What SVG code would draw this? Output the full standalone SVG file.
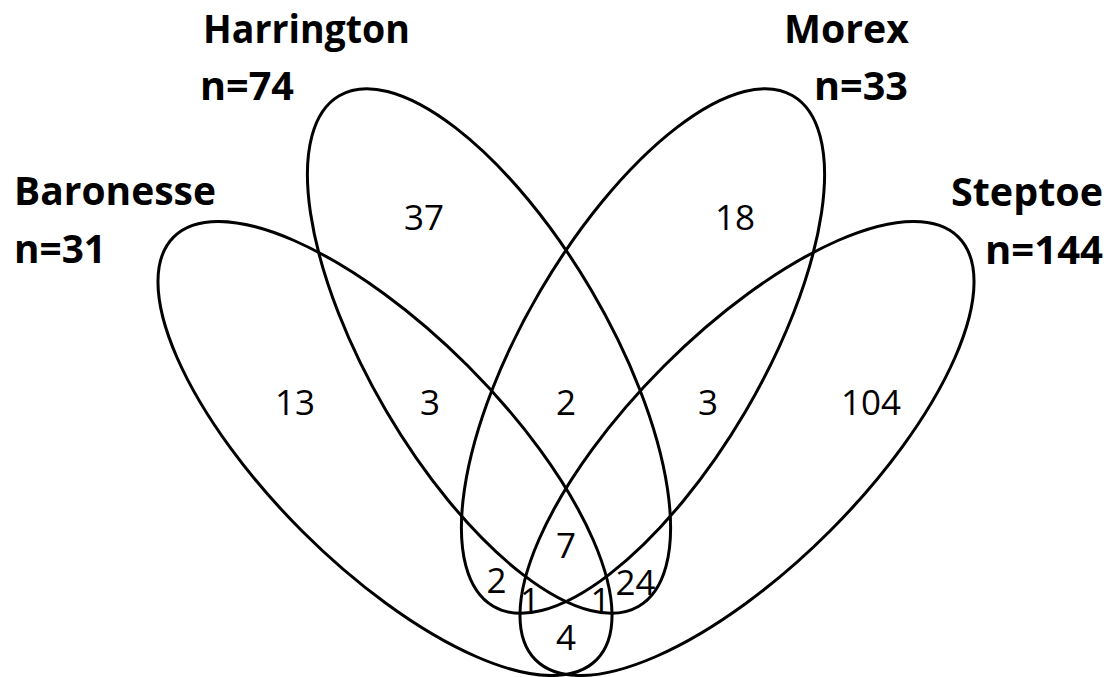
<svg xmlns="http://www.w3.org/2000/svg" width="1115" height="677" viewBox="0 0 1115 677">
<style>
.set{fill:none;stroke:#000;stroke-width:3}
.name{font-family:"Open Sans","Liberation Sans",sans-serif;font-weight:bold;font-size:39px;fill:#000}
.cnt{font-family:"Open Sans","Liberation Sans",sans-serif;font-size:35px;fill:#000;text-anchor:middle}
</style>
<rect width="1115" height="677" fill="#fff"/>
<g id="baronesse">
<ellipse class="set" cx="385" cy="448.5" rx="299" ry="117" transform="rotate(45 385 448.5)"/>
<text class="name" x="14" y="205" textLength="202" lengthAdjust="spacingAndGlyphs">Baronesse</text>
<text class="name" x="14" y="263" textLength="92" lengthAdjust="spacingAndGlyphs">n=31</text>
</g>
<g id="steptoe">
<ellipse class="set" cx="747" cy="448.5" rx="299" ry="117" transform="rotate(-45 747 448.5)"/>
<text class="name" x="951" y="206" textLength="152" lengthAdjust="spacingAndGlyphs">Steptoe</text>
<text class="name" x="985" y="264" textLength="118" lengthAdjust="spacingAndGlyphs">n=144</text>
</g>
<g id="harrington">
<ellipse class="set" cx="489" cy="351" rx="296" ry="119" transform="rotate(59.6 489 351)"/>
<text class="name" x="203" y="43" textLength="207" lengthAdjust="spacingAndGlyphs">Harrington</text>
<text class="name" x="200" y="100" textLength="94" lengthAdjust="spacingAndGlyphs">n=74</text>
</g>
<g id="morex">
<ellipse class="set" cx="643" cy="351" rx="296" ry="119" transform="rotate(-59.6 643 351)"/>
<text class="name" x="784" y="43" textLength="125" lengthAdjust="spacingAndGlyphs">Morex</text>
<text class="name" x="814" y="100" textLength="94" lengthAdjust="spacingAndGlyphs">n=33</text>
</g>
<g id="counts">
<text class="cnt" x="424" y="230">37</text>
<text class="cnt" x="735" y="230">18</text>
<text class="cnt" x="295" y="415">13</text>
<text class="cnt" x="430" y="415">3</text>
<text class="cnt" x="566" y="415">2</text>
<text class="cnt" x="708" y="415">3</text>
<text class="cnt" x="871" y="415">104</text>
<text class="cnt" x="566" y="558">7</text>
<text class="cnt" x="496.5" y="593">2</text>
<text class="cnt" x="530" y="613">1</text>
<text class="cnt" x="600.5" y="613">1</text>
<text class="cnt" x="635.5" y="595">24</text>
<text class="cnt" x="566" y="650">4</text>
</g>
</svg>
